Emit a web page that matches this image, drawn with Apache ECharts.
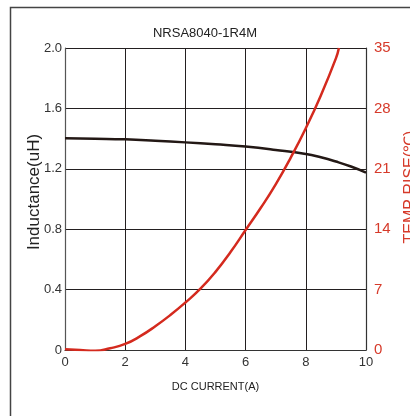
<!DOCTYPE html>
<html><head><meta charset="utf-8">
<script src="https://cdn.jsdelivr.net/npm/echarts@6/dist/echarts.min.js"></script>
<style>html,body{margin:0;padding:0;background:#fff}#c{width:410px;height:416px}</style>
</head><body><div id="c"></div>
<script>
const title = 'NRSA8040-1R4M';
const currentL = [0, 1, 2, 3, 4, 5, 6, 7, 8, 8.5, 9, 9.5, 10];
const inductance = [1.402, 1.399, 1.395, 1.386, 1.375, 1.362, 1.347, 1.325, 1.298, 1.276, 1.248, 1.215, 1.175];
const currentT = [0, 0.5, 1, 1.5, 2, 2.5, 3, 3.5, 4, 4.5, 5, 5.5, 6, 6.5, 7, 7.5, 8, 8.5, 9, 9.1];
const tempRise = [0.1, 0, -0.1, 0.2, 0.7, 1.6, 2.75, 4.05, 5.5, 7.1, 9.05, 11.35, 13.9, 16.45, 19.2, 22.3, 25.7, 29.5, 33.8, 35];
const xTicks = [0, 2, 4, 6, 8, 10];
const leftTicks = [0, 0.4, 0.8, 1.2, 1.6, 2.0];
const rightTicks = [0, 7, 14, 21, 28, 35];

const F = 'Liberation Sans, Arial, sans-serif';
const chart = echarts.init(document.getElementById('c'));
chart.setOption({
  animation: false,
  backgroundColor: '#fff',
  title: { text: title, left: 'center', top: 22, textStyle: { fontFamily: F, fontSize: 13, fontWeight: 'normal', color: '#222' } },
  graphic: [{ type: 'rect', left: 8, top: 5, shape: { width: 430, height: 440 }, style: { fill: 'none', stroke: '#444', lineWidth: 1.5 }, z: -1 }],
  grid: { left: 65, right: 44, top: 48, bottom: 66, containLabel: false, outerBoundsMode: 'none' },
  xAxis: {
    type: 'value', min: 0, max: 10, interval: 2,
    name: 'DC CURRENT(A)', nameLocation: 'middle', nameGap: 31, nameMoveOverlap: false,
    nameTextStyle: { fontFamily: F, fontSize: 11, color: '#222' },
    axisLine: { lineStyle: { color: '#333', width: 1.2 } },
    axisTick: { show: false },
    axisLabel: { fontFamily: F, fontSize: 13, color: '#333', margin: 6 },
    splitLine: { lineStyle: { color: '#231f20', width: 1 } }
  },
  yAxis: [{
    type: 'value', min: 0, max: 2.0, interval: 0.4,
    name: 'Inductance(uH)', nameLocation: 'middle', nameGap: 22, nameRotate: 90, nameMoveOverlap: false,
    nameTextStyle: { fontFamily: F, fontSize: 17, color: '#222', padding: [0, 0, 0, 14] },
    axisLine: { show: true, lineStyle: { color: '#555', width: 1.2 } },
    axisTick: { show: false },
    axisLabel: { fontFamily: F, fontSize: 13, color: '#333', margin: 3, formatter: v => v === 0 ? '0' : v.toFixed(1) },
    splitLine: { lineStyle: { color: '#231f20', width: 1 } }
  }, {
    type: 'value', min: 0, max: 35, interval: 7, position: 'right',
    name: 'TEMP RISE(℃)', nameLocation: 'middle', nameGap: 37, nameRotate: 90, nameMoveOverlap: false,
    nameTextStyle: { fontFamily: F, fontSize: 16, color: '#d63a2a', padding: [0, 0, 0, 24] },
    axisLine: { show: true, lineStyle: { color: '#333', width: 1.2 } },
    axisTick: { show: false },
    axisLabel: { fontFamily: F, fontSize: 15, color: '#d63a2a', margin: 8 },
    splitLine: { show: false }
  }],
  series: [{
    type: 'line', yAxisIndex: 0, smooth: true, symbol: 'none',
    data: currentL.map((x, i) => [x, inductance[i]]),
    lineStyle: { color: '#231815', width: 2.5 }
  }, {
    type: 'line', yAxisIndex: 1, smooth: true, symbol: 'none',
    data: currentT.map((x, i) => [x, tempRise[i]]),
    lineStyle: { color: '#d42a1e', width: 2.5 }
  }]
});
</script></body></html>
